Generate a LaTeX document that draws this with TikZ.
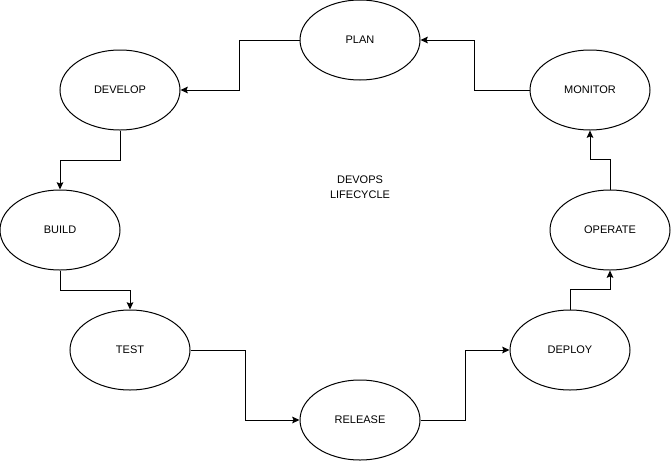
\documentclass[tikz,border=0pt]{standalone}
\usepackage{fontspec}
\setmainfont{Liberation Sans}
\usetikzlibrary{shapes.geometric,arrows.meta}
\begin{document}
\begin{tikzpicture}[x=0.75pt,y=-0.75pt,
  stage/.style={ellipse,draw=black,line width=0.75pt,fill=white,minimum width=90pt,minimum height=60pt,inner sep=0pt,font=\fontsize{8.25}{10}\selectfont},
  arr/.style={draw=black,line width=0.75pt,-{Stealth[length=5.5pt,width=5pt,inset=1pt]}},
  lbl/.style={align=center,font=\fontsize{8.25}{11}\selectfont}]
\useasboundingbox (0,0) rectangle (671,461);
\fill[white] (0,0) rectangle (671,461);
\node[stage] (plan) at (360,40) {PLAN};
\node[stage] (develop) at (120,90) {DEVELOP};
\node[stage] (build) at (60,230) {BUILD};
\node[stage] (test) at (130,350) {TEST};
\node[stage] (release) at (360,420) {RELEASE};
\node[stage] (deploy) at (570,350) {DEPLOY};
\node[stage] (operate) at (610,230) {OPERATE};
\node[stage] (monitor) at (590,90) {MONITOR};
\node[lbl] (title) at (360,187) {DEVOPS\\LIFECYCLE};
\draw[arr] (plan.west) -- ++(-60,0) |- (develop.east);
\draw[arr] (develop.south) -- ++(0,30) -| (build.north);
\draw[arr] (build.south) -- ++(0,20) -| (test.north);
\draw[arr] (test.east) -- ++(55,0) |- (release.west);
\draw[arr] (release.east) -- ++(45,0) |- (deploy.west);
\draw[arr] (deploy.north) -- ++(0,-20) -| (operate.south);
\draw[arr] (operate.north) -- ++(0,-30) -| (monitor.south);
\draw[arr] (monitor.west) -- ++(-55,0) |- (plan.east);
\end{tikzpicture}
\end{document}
